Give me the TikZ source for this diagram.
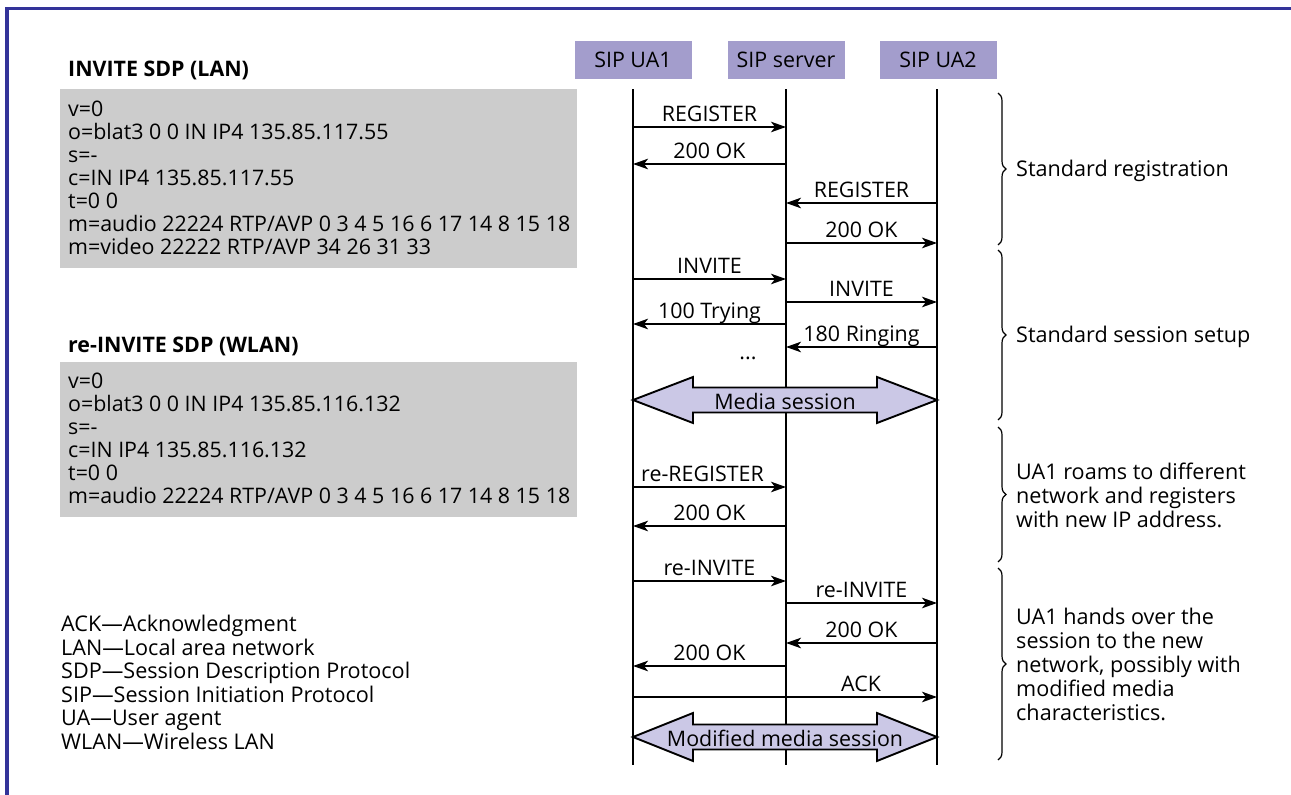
\documentclass[tikz,border=0pt]{standalone}
\usepackage{fontspec}
\setmainfont{Open Sans}
\usetikzlibrary{arrows.meta,decorations.pathreplacing}
\definecolor{frameblue}{RGB}{51,51,153}
\definecolor{headfill}{RGB}{163,157,204}
\definecolor{mediafill}{RGB}{203,200,230}
\definecolor{sdpgray}{RGB}{204,204,204}
\begin{document}
\begin{tikzpicture}[x=1pt,y=-1pt,
  txt/.style={font=\fontsize{21.4}{23.5}\selectfont, inner sep=0pt},
  head/.style={txt, fill=headfill, minimum width=117pt, minimum height=38pt},
  life/.style={line width=1.9pt},
  msg/.style={line width=1.9pt, -{Stealth[length=15pt,width=10.5pt,inset=4pt]}},
  lbl/.style={txt, anchor=base, yshift=6pt},
  sdpbox/.style={fill=sdpgray, inner sep=0pt, minimum width=517pt, anchor=north west},
  sdptext/.style={txt, font=\fontsize{21.4}{23}\selectfont, align=left, anchor=west},
  title/.style={txt, font=\fontsize{21.4}{23.5}\selectfont\bfseries, anchor=west},
  note/.style={txt, font=\fontsize{21.6}{24}\selectfont, align=left, anchor=west},
  brace/.style={decorate, decoration={brace, amplitude=8pt}, line width=1.2pt},
  media/.style={line width=1.9pt, fill=mediafill, line join=miter}]
\useasboundingbox (0,0) rectangle (1291,795);

% frame on the left and top edges
\draw[frameblue, line width=3.2pt] (7,795) -- (7,8.5) -- (1291,8.5);

% SDP bodies
\node[title] (t1) at (68,70) {INVITE SDP (LAN)};
\node[sdpbox, minimum height=179pt] (sdp1) at (60,89) {};
\node[sdptext] (sdp1t) at ([xshift=8pt,yshift=1pt]sdp1.west) {v=0\\
o=blat3 0 0 IN IP4 135.85.117.55\\
s=-\\
c=IN IP4 135.85.117.55\\
t=0 0\\
m=audio 22224 RTP/AVP 0 3 4 5 16 6 17 14 8 15 18\\
m=video 22222 RTP/AVP 34 26 31 33};

\node[title] (t2) at (68,346) {re-INVITE SDP (WLAN)};
\node[sdpbox, minimum height=155pt] (sdp2) at (60,362) {};
\node[sdptext] (sdp2t) at ([xshift=8pt,yshift=1pt]sdp2.west) {v=0\\
o=blat3 0 0 IN IP4 135.85.116.132\\
s=-\\
c=IN IP4 135.85.116.132\\
t=0 0\\
m=audio 22224 RTP/AVP 0 3 4 5 16 6 17 14 8 15 18};

% abbreviations
\node[txt, font=\fontsize{21.6}{23.5}\selectfont, align=left, anchor=north west] (legend) at (61,615) {ACK---Acknowledgment\\
LAN---Local area network\\
SDP---Session Description Protocol\\
SIP---Session Initiation Protocol\\
UA---User agent\\
WLAN---Wireless LAN};

% participants and lifelines
\node[head] (ua1) at (633,60) {SIP UA1};
\node[head] (srv) at (786,60) {SIP server};
\node[head] (ua2) at (938,60) {SIP UA2};
\coordinate (l1t) at (633,89); \coordinate (l1b) at (633,765);
\coordinate (l2t) at (786,89); \coordinate (l2b) at (786,765);
\coordinate (l3t) at (937,89); \coordinate (l3b) at (937,765);
\draw[life] (l1t) -- (l1b);
\draw[life] (l2t) -- (l2b);
\draw[life] (l3t) -- (l3b);

% messages
\foreach \n/\y/\a/\b/\t/\dx in {
  1/127/l1t/l2t/REGISTER/0,
  2/164/l2t/l1t/200 OK/0,
  3/203/l3t/l2t/REGISTER/0,
  4/243/l2t/l3t/200 OK/0,
  5/279/l1t/l2t/INVITE/0,
  6/302/l2t/l3t/INVITE/0,
  7/324/l2t/l1t/100 Trying/0,
  8/347/l3t/l2t/180 Ringing/0,
  9/487/l1t/l2t/re-REGISTER/-7,
  10/526/l2t/l1t/200 OK/0,
  11/581/l1t/l2t/re-INVITE/0,
  12/603/l2t/l3t/re-INVITE/0,
  13/643/l3t/l2t/200 OK/0,
  14/666/l2t/l1t/200 OK/0}{
  \coordinate (m\n a) at (\a |- 0,\y);
  \coordinate (m\n b) at (\b |- 0,\y);
  \draw[msg] (m\n a) -- node[lbl, xshift=\dx pt] {\t} (m\n b);
}
\coordinate (ackA) at (l1t |- 0,697);
\coordinate (ackB) at (l3t |- 0,697);
\draw[msg] (ackA) -- node[lbl, pos=0.75] {ACK} (ackB);

\node[txt] (dots) at (748,358) {...};

% media sessions
\draw[media] (633,400) -- (693,377) -- (693,387.5) -- (877,387.5) -- (877,377)
  -- (937,400) -- (877,423) -- (877,412.5) -- (693,412.5) -- (693,423) -- cycle;
\node[txt] (ms) at (785,401) {Media session};
\draw[media] (633,737) -- (693,713) -- (693,724.5) -- (877,724.5) -- (877,713)
  -- (937,737) -- (877,761) -- (877,749.5) -- (693,749.5) -- (693,761) -- cycle;
\node[txt] (mms) at (785,738) {Modified media session};

% phases
\draw[brace] (998,93) -- (998,245);
\draw[brace] (998,250) -- (998,420);
\draw[brace] (998,427) -- (998,562);
\draw[brace] (998,568) -- (998,760);
\node[note] (p1) at (1016,171) {Standard registration};
\node[note] (p2) at (1016,337) {Standard session setup};
\node[note] (p3) at (1016,495) {UA1 roams to different\\network and registers\\with new IP address.};
\node[note] (p4) at (1016,664) {UA1 hands over the\\session to the new\\network, possibly with\\modified media\\characteristics.};
\end{tikzpicture}
\end{document}
